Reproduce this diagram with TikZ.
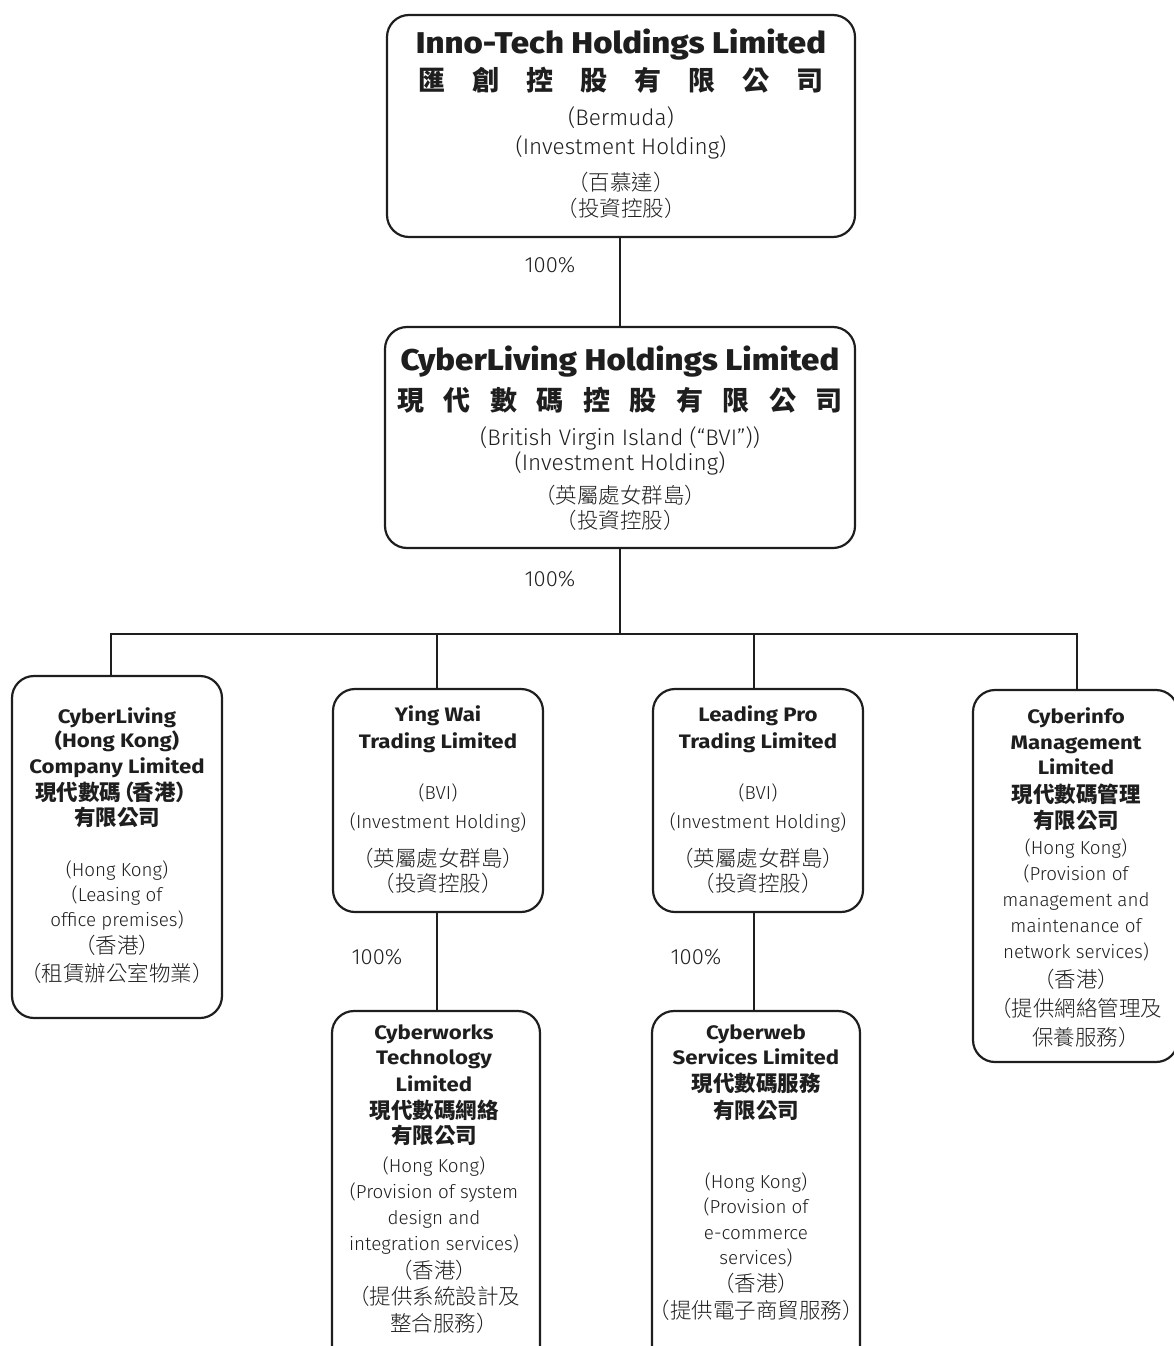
\documentclass[tikz,border=0pt]{standalone}
\usepackage{fontspec}
\newfontfamily\lightf{Fira Sans Light}
\newfontfamily\boldf{Fira Sans Bold}[FakeStretch=1.14]
\newfontfamily\heavyf{Fira Sans ExtraBold}[FakeStretch=1.1]
\newfontfamily\cjk{Noto Sans CJK TC}
\newfontfamily\cjkl{Noto Sans CJK TC Light}
\newcommand\gapA{\hspace{27pt}}
\newcommand\gapB{\hspace{19.5pt}}
\definecolor{ink}{HTML}{1E1E1E}
\begin{document}
\begin{tikzpicture}[x=1pt,y=-1pt,
  box/.style={draw=ink, line width=2.2pt, rounded corners=22pt, inner sep=0pt, outer sep=0pt},
  conn/.style={draw=ink, line width=2.2pt},
  txt/.style={inner sep=0pt, anchor=base, text=ink},
  ttl/.style={txt, font=\fontsize{30}{31}\selectfont\heavyf, yshift=-10.5pt},
  hdr/.style={txt, font=\fontsize{27}{28}\selectfont\cjk\bfseries, yshift=-10pt},
  bdy/.style={txt, font=\fontsize{22.5}{23}\selectfont\lightf, yshift=-7.8pt},
  cjl/.style={txt, font=\fontsize{21.5}{22}\selectfont\cjkl, yshift=-8.2pt},
  sttl/.style={txt, font=\fontsize{19.5}{20}\selectfont\boldf, yshift=-6.8pt},
  scj/.style={txt, font=\fontsize{21.5}{22}\selectfont\cjk\bfseries, yshift=-8.2pt},
  sbdy/.style={txt, font=\fontsize{18.8}{19}\selectfont\lightf, yshift=-6.5pt},
  pct/.style={txt, font=\fontsize{22}{23}\selectfont\lightf, yshift=-7.7pt}]
\useasboundingbox (0,0) rectangle (1174,1346);
\clip (0,0) rectangle (1174,1346);

% boxes
\node[box, minimum width=468pt, minimum height=222pt] (top) at (621,126) {};
\node[box, minimum width=470pt, minimum height=221pt] (mid) at (620,437.5) {};
\node[box, minimum width=210pt, minimum height=342pt] (A) at (117,847) {};
\node[box, minimum width=210pt, minimum height=223pt] (B) at (438,800.5) {};
\node[box, minimum width=210pt, minimum height=223pt] (C) at (758,800.5) {};
\node[box, minimum width=205pt, minimum height=372pt] (D) at (1075.5,876) {};
\node[box, minimum width=208pt, minimum height=389pt] (E) at (436,1205.5) {};
\node[box, minimum width=208pt, minimum height=389pt] (F) at (756,1205.5) {};

% connector guides
\coordinate (xa) at (111,0);
\coordinate (xb) at (437,0);
\coordinate (xc) at (754,0);
\coordinate (xd) at (1077,0);
\coordinate (xm) at (620,0);
\coordinate (bus) at (620,634);

\draw[conn] (xm |- top.south) -- (xm |- mid.north);
\draw[conn] (xm |- mid.south) -- (bus);
\draw[conn] (xa |- A.north) |- (xd |- bus) -- (xd |- D.north);
\draw[conn] (xb |- bus) -- (xb |- B.north);
\draw[conn] (xc |- bus) -- (xc |- C.north);
\draw[conn] (xb |- B.south) -- (xb |- E.north);
\draw[conn] (xc |- C.south) -- (xc |- F.north);

% percentages
\node[pct] (p1) at (550,265) {100\%};
\node[pct] (p2) at (550,579) {100\%};
\node[pct] (p3) at (377,957) {100\%};
\node[pct] (p4) at (696,957) {100\%};

% top box
\node[ttl] (t1) at (621,43) {Inno-Tech Holdings Limited};
\node[hdr] (t2) at (621,80) {匯\gapA 創\gapA 控\gapA 股\gapA 有\gapA 限\gapA 公\gapA 司};
\node[bdy] (t3) at (621,118) {(Bermuda)};
\node[bdy] (t4) at (621,147) {(Investment Holding)};
\node[cjl] (t5) at (621,182) {（百慕達）};
\node[cjl] (t6) at (621,208) {（投資控股）};

% middle box
\node[ttl] (m1) at (620,360) {CyberLiving Holdings Limited};
\node[hdr] (m2) at (620,400) {現\gapB 代\gapB 數\gapB 碼\gapB 控\gapB 股\gapB 有\gapB 限\gapB 公\gapB 司};
\node[bdy] (m3) at (620,438) {(British Virgin Island (“BVI”))};
\node[bdy] (m4) at (620,463) {(Investment Holding)};
\node[cjl] (m5) at (620,495) {（英屬處女群島）};
\node[cjl] (m6) at (620,520) {（投資控股）};

% box A
\node[sttl] (a1) at (117,717) {CyberLiving};
\node[sttl] (a2) at (117,741) {(Hong Kong)};
\node[sttl] (a3) at (117,767) {Company Limited};
\node[scj] (a4) at (116,792) {現代數碼\kern-8pt（\kern-2pt 香港）};
\node[scj] (a5) at (117,817) {有限公司};
\node[sbdy] (a6) at (117,870) {(Hong Kong)};
\node[sbdy] (a7) at (117,895) {(Leasing of};
\node[sbdy] (a8) at (117,920) {office premises)};
\node[cjl] (a9) at (117,945) {（香港）};
\node[cjl] (a10) at (117,973) {（租賃辦公室物業）};

% box B
\node[sttl] (b1) at (438,715) {Ying Wai};
\node[sttl] (b2) at (438,742) {Trading Limited};
\node[sbdy] (b3) at (438,793) {(BVI)};
\node[sbdy] (b4) at (438,822) {(Investment Holding)};
\node[cjl] (b5) at (438,858) {（英屬處女群島）};
\node[cjl] (b6) at (438,883) {（投資控股）};

% box C
\node[sttl] (c1) at (758,715) {Leading Pro};
\node[sttl] (c2) at (758,742) {Trading Limited};
\node[sbdy] (c3) at (758,793) {(BVI)};
\node[sbdy] (c4) at (758,822) {(Investment Holding)};
\node[cjl] (c5) at (758,858) {（英屬處女群島）};
\node[cjl] (c6) at (758,883) {（投資控股）};

% box D
\node[sttl] (d1) at (1076,717) {Cyberinfo};
\node[sttl] (d2) at (1076,743) {Management};
\node[sttl] (d3) at (1076,768) {Limited};
\node[scj] (d4) at (1076,794) {現代數碼管理};
\node[scj] (d5) at (1076,820) {有限公司};
\node[sbdy] (d6) at (1076,848) {(Hong Kong)};
\node[sbdy] (d7) at (1076,874) {(Provision of};
\node[sbdy] (d8) at (1076,900) {management and};
\node[sbdy] (d9) at (1076,926) {maintenance of};
\node[sbdy] (d10) at (1076,952) {network services)};
\node[cjl] (d11) at (1076,979) {（香港）};
\node[cjl] (d12) at (1076,1008) {（提供網絡管理及};
\node[cjl] (d13) at (1086,1037) {保養服務）};

% box E
\node[sttl] (e1) at (434,1033) {Cyberworks};
\node[sttl] (e2) at (434,1058) {Technology};
\node[sttl] (e3) at (434,1085) {Limited};
\node[scj] (e4) at (434,1110) {現代數碼網絡};
\node[scj] (e5) at (434,1135) {有限公司};
\node[sbdy] (e6) at (434,1166) {(Hong Kong)};
\node[sbdy] (e7) at (434,1192) {(Provision of system};
\node[sbdy] (e8) at (434,1218) {design and};
\node[sbdy] (e9) at (434,1244) {integration services)};
\node[cjl] (e10) at (434,1270) {（香港）};
\node[cjl] (e11) at (434,1296) {（提供系統設計及};
\node[cjl] (e12) at (444,1323) {整合服務）};

% box F
\node[sttl] (f1) at (756,1033) {Cyberweb};
\node[sttl] (f2) at (756,1058) {Services Limited};
\node[scj] (f3) at (756,1083) {現代數碼服務};
\node[scj] (f4) at (756,1110) {有限公司};
\node[sbdy] (f5) at (756,1182) {(Hong Kong)};
\node[sbdy] (f6) at (756,1207) {(Provision of};
\node[sbdy] (f7) at (756,1233) {e-commerce};
\node[sbdy] (f8) at (756,1258) {services)};
\node[cjl] (f9) at (756,1283) {（香港）};
\node[cjl] (f10) at (756,1310) {（提供電子商貿服務）};
\end{tikzpicture}
\end{document}
